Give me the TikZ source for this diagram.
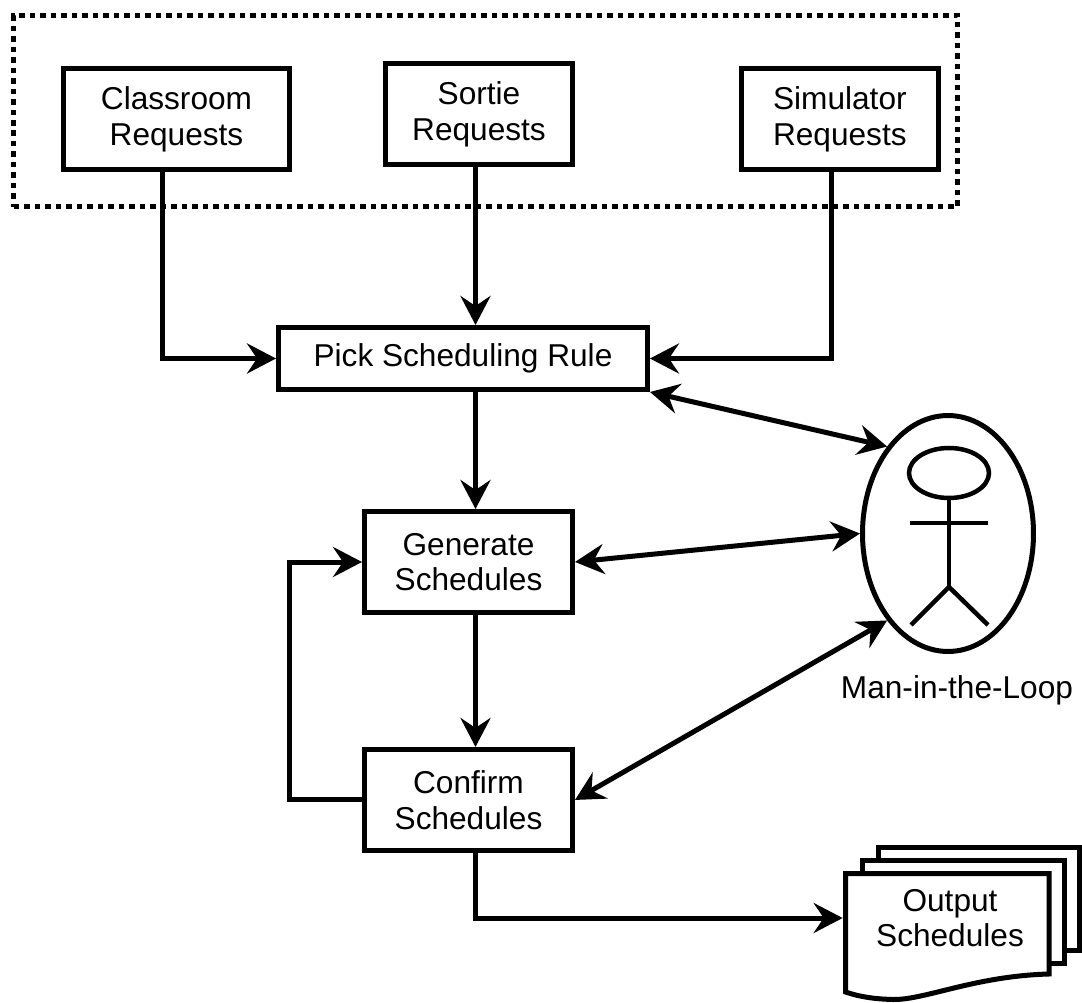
\documentclass[tikz,border=0pt]{standalone}
\usepackage{fontspec}
\setmainfont{Liberation Sans}
\usetikzlibrary{positioning,arrows.meta,shapes.geometric}

\begin{document}
\begin{tikzpicture}[x=0.02cm, y=-0.02cm, font=\fontsize{18}{20.3}\selectfont,
		reqbox/.style={draw, line width=0.1cm, inner sep=0pt, minimum height=2.02cm, align=center},
		link/.style={line width=0.1cm, -{Stealth[length=0.58cm, width=0.6cm, inset=0.2cm]}},
		both/.style={link, {Stealth[length=0.58cm, width=0.6cm, inset=0.2cm]}-{Stealth[length=0.58cm, width=0.6cm, inset=0.2cm]}},
		sheet/.style={line width=0.1cm},
		stick/.style={line width=0.09cm}]
		\useasboundingbox (0,0) rectangle (1082,1003);
		\node[draw, line width=0.1cm, dash pattern=on 0.11cm off 0.1cm, minimum width=18.88cm, minimum height=3.83cm] (requests) at (485.7,111.2) {};
		\node[reqbox, minimum width=4.52cm] (classroom) at (176.5,119) {Classroom\\Requests};
		\node[reqbox, minimum width=3.74cm] (sortie) at (479,114) {Sortie\\Requests};
		\node[reqbox, minimum width=3.94cm, right=8.94cm of classroom] (simulator) {Simulator\\Requests};
		\node[reqbox, minimum width=7.38cm, minimum height=1.24cm] (pick) at (463,358.5) {Pick Scheduling Rule};
		\node[reqbox, minimum width=4.16cm] (generate) at (468.5,562) {Generate\\Schedules};
		\node[reqbox, minimum width=4.16cm, below=2.64cm of generate] (confirm) {Confirm\\Schedules};
		\node[draw, ellipse, line width=0.1cm, inner sep=0pt, minimum width=3.42cm, minimum height=4.72cm] (man) at (948,533.5) {};
		\node[below=0.42cm of man, xshift=0.18cm, inner sep=0pt] (manlabel) {Man-in-the-Loop};
		\coordinate (leftrail) at (162,250);
		\coordinate (midrail) at (475.5,250);
		\coordinate (rightrail) at (831,250);
		\coordinate (looprail) at (289,680);
		\draw[stick] (949,473) ellipse (40 and 25);
		\draw[stick] (949,498) -- (949,587);
		\draw[stick] (910,523) -- (988,523);
		\draw[stick] (911,625) -- (949,587) -- (988,625);
		\draw[sheet] (878.5,858) -- (878.5,847.5) -- (1079,847.5) -- (1079,950.5) -- (1064,950.5);
		\draw[sheet] (862.5,873) -- (862.5,860.5) -- (1064,860.5) -- (1064,963.5) -- (1049,963.5);
		\draw[sheet, fill=white] (845.5,873.5) -- (1049,873.5) -- (1049,974) .. controls (975,976) and (925,1000) .. (893,999.5) .. controls (875,999) and (860,997) .. (845.5,992) -- cycle;
		\node[minimum width=4.28cm, minimum height=1.8cm, align=center] (output) at (950,918) {Output\\Schedules};
		\draw[link] (classroom.south -| leftrail) |- (pick.west);
		\draw[link] (sortie.south -| midrail) -- (pick.north -| midrail);
		\draw[link] (simulator.south -| rightrail) |- (pick.east);
		\draw[link] (pick.south -| midrail) -- (generate.north -| midrail);
		\draw[link] (generate.south -| midrail) -- (confirm.north -| midrail);
		\draw[link] (confirm.west) -| (looprail) |- (generate.west);
		\draw[link] (confirm.south -| midrail) |- (output.west);
		\draw[both] (pick.south east) -- (man.125);
		\draw[both] (generate.east) -- (man.west);
		\draw[both] (confirm.east) -- (man.235);
	\end{tikzpicture}
\end{document}
